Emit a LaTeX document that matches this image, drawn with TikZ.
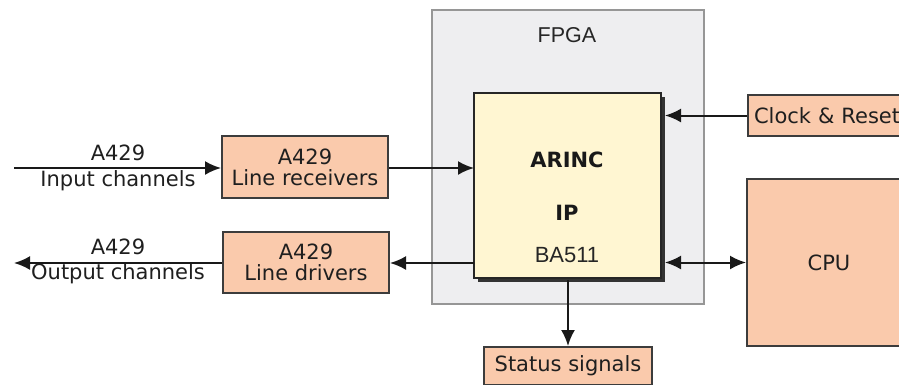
\documentclass[tikz,border=0pt]{standalone}
\usepackage{fontspec}
\setmainfont{DejaVu Sans}
\newfontfamily\arialf{Liberation Sans}
\usetikzlibrary{arrows.meta}
\definecolor{peach}{RGB}{250,202,172}
\definecolor{ipfill}{RGB}{255,246,210}
\definecolor{fpgafill}{RGB}{238,238,240}
\definecolor{fpgaline}{RGB}{150,150,150}
\definecolor{boxline}{RGB}{60,60,60}
\tikzset{
  txt/.style={font=\fontsize{21}{24}\selectfont, text=black!88},
  pbox/.style={draw=boxline, line width=2pt, fill=peach, inner sep=0pt, txt, align=center},
  tip/.tip={Latex[length=16pt,width=14pt]},
  conn/.style={line width=2pt, draw=black!90, -tip},
  bconn/.style={line width=2pt, draw=black!90, tip-tip},
}
\begin{document}
\begin{tikzpicture}[x=1pt,y=-1pt]
\useasboundingbox (0,0) rectangle (899,384);
\clip (0,0) rectangle (899,384);
\fill[white] (0,0) rectangle (899,384);
% FPGA
\node[draw=fpgaline, line width=1.2pt, fill=fpgafill, minimum width=272pt, minimum height=294pt, inner sep=0pt] (fpga) at (568,157) {};
\node[font=\arialf\fontsize{21.5}{24}\selectfont, text=black!85] (fpgat) at (567,35) {FPGA};
% IP shadow and box
\fill[black!80] (478,97) rectangle (665,282);
\node[draw=black!85, line width=2pt, fill=ipfill, minimum width=187pt, minimum height=185pt, inner sep=0pt] (ip) at (567.5,185.5) {};
\node[font=\bfseries\fontsize{21}{24}\selectfont, text=black!90] (arinc) at (567,160) {ARINC};
\node[font=\bfseries\fontsize{21}{24}\selectfont, text=black!90] (ipt) at (567,213) {IP};
\node[font=\arialf\fontsize{22}{24}\selectfont, text=black!85] (ba) at (567,255) {BA511};
\coordinate (ipin) at (474,168);
\coordinate (ipout) at (474,263);
\coordinate (ipclk) at (665,115.5);
\coordinate (ipcpu) at (665,262.5);
\coordinate (ipbot) at (568,280);
% receivers / drivers
\node[pbox, minimum width=166pt, minimum height=62pt] (rx) at (305,167) {A429\\[-3pt]Line receivers};
\node[pbox, minimum width=166pt, minimum height=61pt] (tx) at (306,262.5) {A429\\[-3pt]Line drivers};
\coordinate (inl) at (14,168);
\coordinate (outl) at (14,263);
\node[txt] (ina) at (118,153) {A429};
\node[txt] (inb) at (118,181) {Input channels};
\node[txt] (outa) at (118,247) {A429};
\node[txt] (outb) at (118,274) {Output channels};
% right side
\node[pbox, anchor=west, minimum height=41pt, text width=190pt, inner xsep=6pt, align=left] (clk) at (747,115.5) {Clock \& Reset};
\node[pbox, minimum width=164pt, minimum height=167pt] (cpu) at (829,262.5) {CPU};
\node[pbox, minimum width=168pt, minimum height=38pt] (stat) at (568,366) {Status signals};
% connectors
\draw[conn] (inl) -- (rx.west |- inl);
\draw[conn] (rx.east |- ipin) -- (ipin);
\draw[conn] (ipout) -- (tx.east |- ipout);
\draw[conn] (tx.west |- outl) -- (outl);
\draw[conn] (clk.west) -- (ipclk);
\draw[bconn] (ipcpu) -- (cpu.west);
\draw[conn] (ipbot) -- (stat.north -| ipbot);
\end{tikzpicture}
\end{document}
